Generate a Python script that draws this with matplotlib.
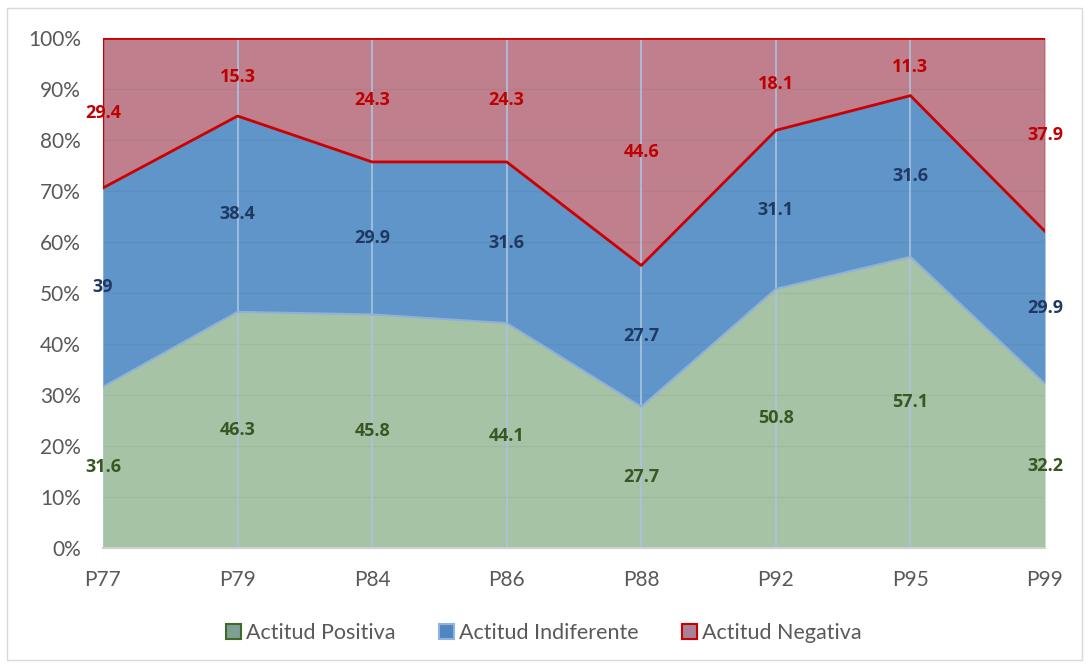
import matplotlib
matplotlib.use("Agg")
import matplotlib.pyplot as plt
from matplotlib.patches import Rectangle, Patch
import numpy as np

categories = ["P77", "P79", "P84", "P86", "P88", "P92", "P95", "P99"]
positiva = [31.6, 46.3, 45.8, 44.1, 27.7, 50.8, 57.1, 32.2]
indiferente = [39, 38.4, 29.9, 31.6, 27.7, 31.1, 31.6, 29.9]
negativa = [29.4, 15.3, 24.3, 24.3, 44.6, 18.1, 11.3, 37.9]
series_names = ["Actitud Positiva", "Actitud Indiferente", "Actitud Negativa"]
yticks = [0, 10, 20, 30, 40, 50, 60, 70, 80, 90, 100]

plt.rcParams['font.family'] = ['Lato', 'DejaVu Sans']

c_pos = "#a6c3a6"
c_ind = "#5f95c8"
c_neg = "#bf7f8d"
lab_pos = "#385723"
lab_ind = "#1f3864"
lab_neg = "#c00000"

fig = plt.figure(figsize=(10.88, 6.66), dpi=100)
ax = fig.add_axes([103/1088, 1-548/666, (1045-103)/1088, (548-38)/666])

x = np.arange(len(categories))
pos = np.array(positiva)
ind = np.array(indiferente)
neg = np.array(negativa)
tot = pos + ind + neg
p = pos / tot * 100
i_ = ind / tot * 100
n = neg / tot * 100

ax.fill_between(x, 0, p, color=c_pos, zorder=1, linewidth=0)
ax.fill_between(x, p, p + i_, color=c_ind, zorder=1, linewidth=0)
ax.fill_between(x, p + i_, 100, color=c_neg, zorder=1, linewidth=0)

# boundary lines
ax.plot(x, p, color="#8fb0d8", lw=1.5, zorder=3)
ax.plot(x, p + i_, color="#cc0000", lw=2, zorder=4)
ax.plot(x, np.full(len(x), 100), color="#cc0000", lw=2, zorder=4)
ax.plot([0, 0], [p[0] + i_[0], 100], color="#cc0000", lw=1, zorder=4)
ax.plot([x[-1], x[-1]], [p[-1] + i_[-1], 100], color="#cc0000", lw=1, zorder=4)

# gridlines
for yv in yticks[1:-1]:
    ax.axhline(yv, color="#000000", alpha=0.04, lw=1, zorder=2)
for xv in x[1:-1]:
    ax.axvline(xv, color="#a9c4e0", lw=1.2, zorder=2)
ax.axvline(0, color="#a9c4e0", lw=1.2, zorder=0.5)

ax.set_xlim(0, len(x) - 1)
ax.set_ylim(0, 100)
ax.set_yticks(yticks)
ax.set_yticklabels([f"{v}%" for v in yticks])
ax.set_xticks(x)
ax.set_xticklabels(categories)
ax.tick_params(axis="both", length=0, labelsize=15, colors="#595959")
ax.tick_params(axis="x", pad=16)
ax.tick_params(axis="y", pad=16)
for s in ["left", "right", "top"]:
    ax.spines[s].set_visible(False)
ax.spines["bottom"].set_color("#d0d0d0")
ax.spines["bottom"].set_linewidth(1.5)
ax.spines["bottom"].set_zorder(5)

def fmt(v):
    return f"{v:g}"

lab_font = ['Open Sans', 'DejaVu Sans']
for k in range(len(x)):
    ax.text(x[k], p[k] / 2, fmt(positiva[k]), ha="center", va="center", family=lab_font,
            color=lab_pos, fontsize=13, fontweight="bold", zorder=6, clip_on=False)
    ax.text(x[k], p[k] + i_[k] / 2, fmt(indiferente[k]), ha="center", va="center", family=lab_font,
            color=lab_ind, fontsize=13, fontweight="bold", zorder=6, clip_on=False)
    ax.text(x[k], p[k] + i_[k] + n[k] / 2, fmt(negativa[k]), ha="center", va="center", family=lab_font,
            color=lab_neg, fontsize=13, fontweight="bold", zorder=6, clip_on=False)

handles = [
    Patch(facecolor="#7f9f95", edgecolor="#3d6b2a", linewidth=1.5),
    Patch(facecolor="#4f86c0", edgecolor="#8fb4e0", linewidth=1.5),
    Patch(facecolor="#a88298", edgecolor="#cc0000", linewidth=1.5),
]
leg = fig.legend(handles, series_names, loc="center", bbox_to_anchor=(0.5, 1 - 633/666),
                 ncol=3, frameon=False, fontsize=15.5, handlelength=0.7, handleheight=0.7,
                 handletextpad=0.25, columnspacing=2.0)
for t in leg.get_texts():
    t.set_color("#595959")

fig.patches.append(Rectangle((7/1088, 6/666), 1075/1088, 652/666, transform=fig.transFigure,
                             fill=False, edgecolor="#d9d9d9", linewidth=1))

fig.savefig("out.png", dpi=100)
